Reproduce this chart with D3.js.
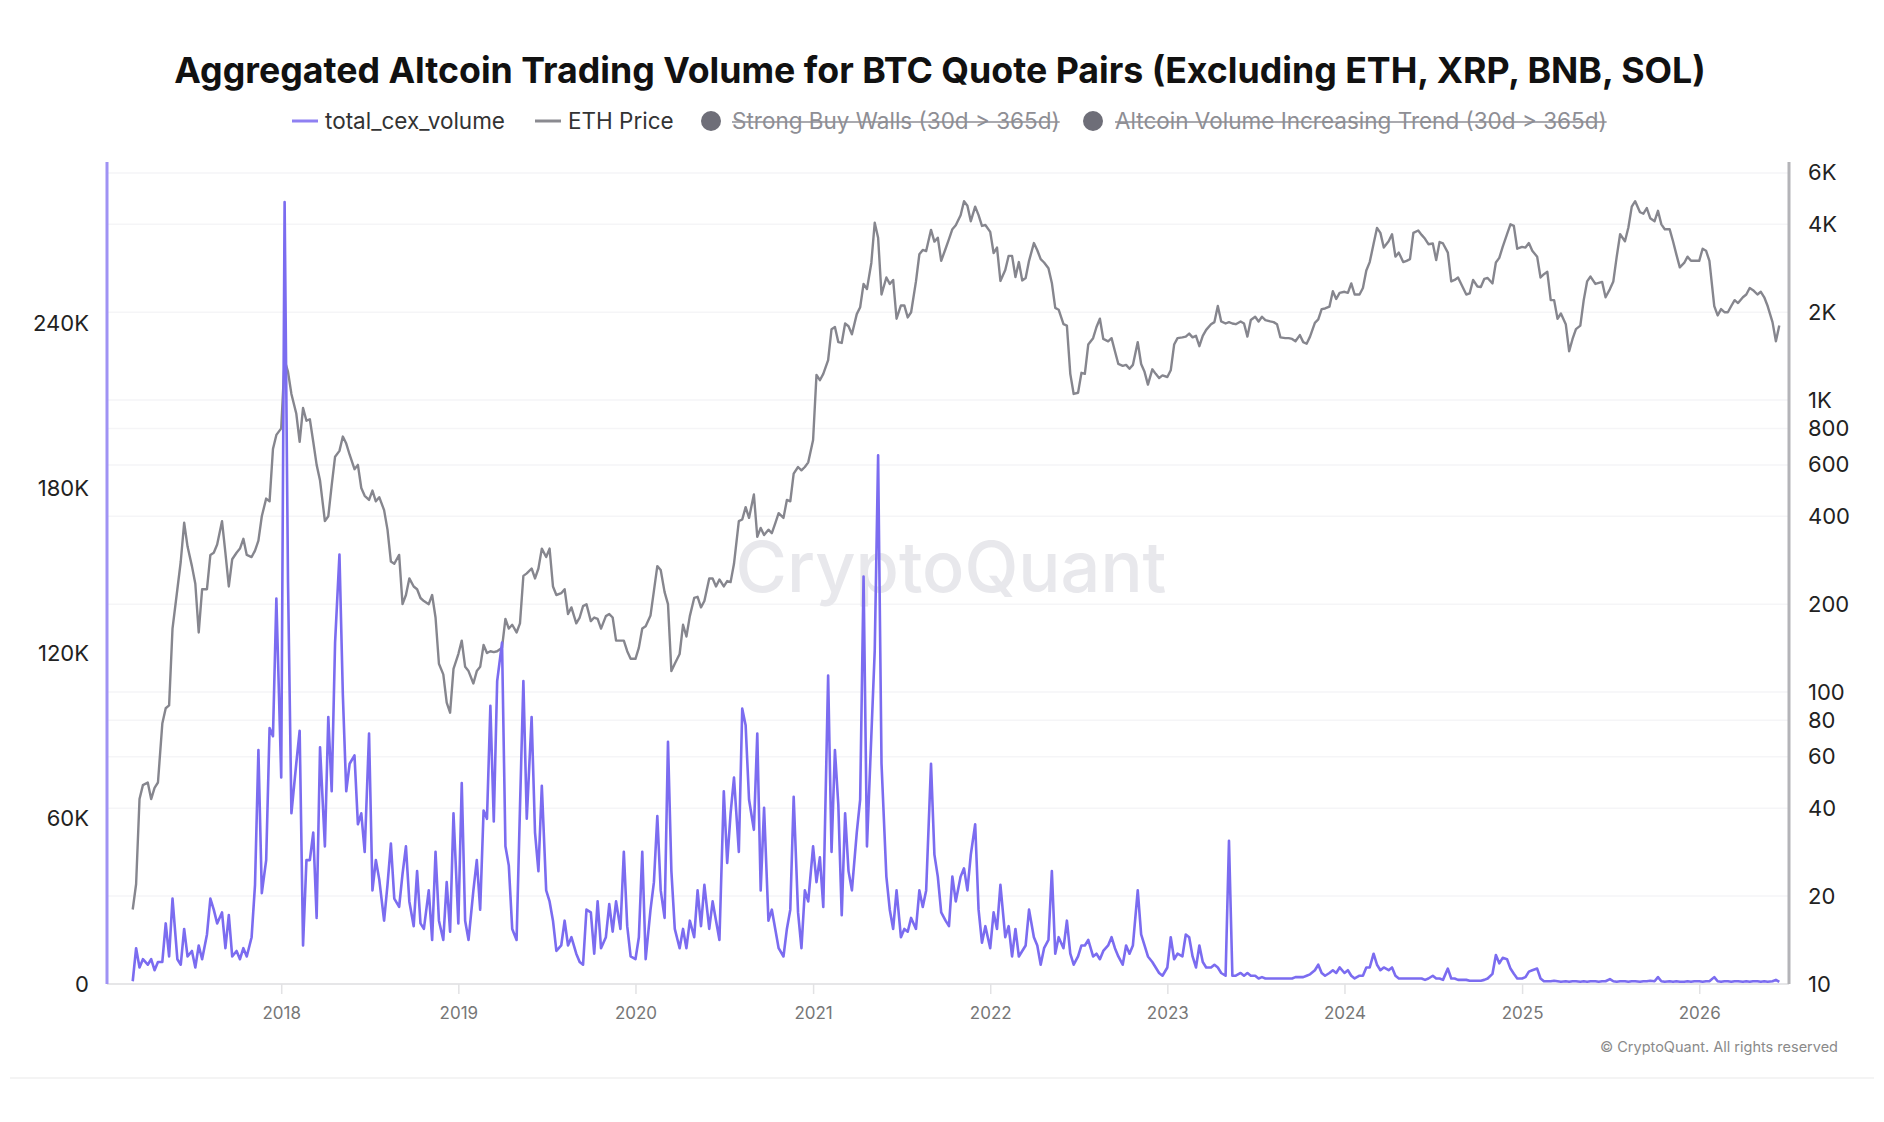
<!DOCTYPE html>
<html>
<head>
<meta charset="utf-8">
<title>Aggregated Altcoin Trading Volume for BTC Quote Pairs</title>
<script src="https://d3js.org/d3.v7.min.js"></script>
<style>
  body { margin: 0; background: #fff; }
  * { font-family: Inter, "Noto Sans", sans-serif; }
</style>
</head>
<body>
<svg id="chart" width="1884" height="1122"></svg>
<script>
// weekly samples (days 1, 8, 15, 22 of each month), first month = March 2017
const startYear = 2017, startMonth = 2;
const weekDays = [1, 8, 15, 22];

// total_cex_volume, in thousands (one row = one month)
const cexVolume = [
  1, 13, 6, 9,   7, 9, 5, 8,   8, 22, 10, 31,   9, 7, 20, 10,   12, 6, 14, 9,
  18, 31, 27, 22,   26, 13, 25, 10,   12, 9, 13, 10,   17, 36, 85, 33,   45, 93, 90, 140,
  // 2018
  75, 284, 146, 62,   80, 92, 14, 45,   45, 55, 24, 86,   50, 97, 70, 124,
  156, 105, 70, 80,   83, 58, 62, 48,   91, 34, 45, 38,   23, 36, 51, 31,
  28, 40, 50, 30,   21, 41, 22, 20,   34, 16, 48, 23,   16, 37, 19, 62,
  // 2019
  22, 73, 23, 16,   34, 45, 27, 63,   60, 101, 59, 110,   124, 50, 43, 20,
  16, 64, 110, 60,   97, 55, 41, 72,   34, 30, 23, 12,   14, 23, 14, 17,
  11, 8, 7, 27,   26, 11, 30, 13,   17, 29, 19, 30,   20, 48, 21, 10,
  // 2020
  9, 17, 48, 9,   27, 37, 61, 34,   24, 88, 41, 20,   13, 20, 13, 23,
  17, 34, 21, 36,   20, 30, 23, 16,   70, 44, 62, 75,   48, 100, 94, 67,
  56, 91, 34, 64,   23, 27, 20, 13,   10, 20, 27, 68,   26, 13, 34, 30,
  // 2021
  50, 37, 46, 28,   112, 48, 85, 65,   25, 62, 41, 34,   55, 67, 148, 50,
  90, 121, 192, 80,   39, 27, 20, 34,   17, 20, 19, 24,   20, 34, 28, 34,
  80, 47, 39, 26,   23, 21, 39, 30,   39, 42, 34, 47,   58, 27, 15, 21,
  // 2022
  13, 26, 20, 36,   17, 21, 10, 20,   10, 12, 14, 27,   17, 14, 7, 13,
  16, 41, 11, 17,   13, 23, 11, 7,   10, 14, 14, 16,   10, 11, 9, 12,
  14, 17, 13, 10,   7, 14, 11, 14,   34, 18, 14, 10,   8, 6, 4, 3,
  // 2023
  6, 17, 9, 11,   10, 18, 17, 10,   6, 14, 8, 6,   6, 7, 6, 4,
  3, 52, 3, 3,   4, 3, 4, 3,   3, 2, 2.5, 2,   2, 2, 2, 2,
  2, 2, 2, 2.5,   2.5, 2.5, 3, 3.5,   5, 7, 4, 3,   4, 5, 4, 6,
  // 2024
  4, 5, 3, 2,   3, 3, 6, 6,   11, 7, 5, 6,   5, 6, 3, 2,
  2, 2, 2, 2,   2, 2, 1.5, 2,   3, 2, 2, 1.5,   5.6, 2, 2, 1.5,
  1.5, 1.5, 1.2, 1.2,   1.2, 1.2, 1.5, 2,   3.7, 10.5, 7.5, 9.5,   9, 5.6, 3.7, 2,
  // 2025
  2, 2.5, 4.5, 5,   5.6, 2, 1, 1,   1, 1.2, 1, 0.8,   1, 0.8, 1, 1,
  0.8, 1, 0.8, 1,   1, 0.8, 1, 1,   1.8, 1, 0.8, 1,   1, 0.8, 1, 1,
  0.8, 1, 1, 1.2,   1, 2.5, 1, 0.8,   1, 0.8, 1, 0.8,   0.8, 1, 0.8, 1,
  // 2026
  1, 0.8, 1, 1,   2.5, 1, 0.8, 1,   1, 0.8, 1, 1,   0.8, 1, 0.8, 1,
  1, 0.8, 1, 0.8,   1, 1.5, 0.8
];

// ETH Price, USD
const ethPrice = [
  18, 22, 43, 48,   49, 43, 47, 49,   78, 88, 90, 165,   225, 280, 380, 315,   270, 235, 160, 225,
  225, 295, 300, 320,   385, 300, 230, 285,   300, 310, 335, 295,   290, 305, 330, 400,   460, 450, 680, 760,
  // 2018
  800, 1370, 1250, 1050,   900, 720, 940, 850,   860, 720, 600, 530,   385, 400, 510, 640,
  670, 750, 710, 650,   580, 600, 500, 470,   455, 490, 450, 465,   420, 360, 280, 275,
  295, 200, 215, 245,   230, 225, 210, 205,   200, 215, 180, 125,   115, 92, 85, 120,
  // 2019
  135, 150, 122, 118,   107, 118, 122, 145,   136, 138, 137, 138,   142, 178, 165, 170,
  160, 172, 250, 255,   265, 245, 265, 310,   290, 310, 230, 215,   218, 225, 185, 195,
  172, 180, 197, 200,   175, 180, 178, 165,   182, 185, 180, 150,   150, 150, 138, 130,
  // 2020
  130, 142, 165, 168,   183, 222, 270, 262,   220, 200, 118, 125,   135, 170, 155, 182,
  210, 212, 195, 205,   245, 245, 230, 243,   230, 240, 238, 275,   385, 390, 430, 395,
  475, 340, 365, 345,   360, 350, 378, 410,   395, 455, 450, 560,   590, 575, 590, 612,
  // 2021
  730, 1220, 1170, 1230,   1370, 1750, 1780, 1580,   1570, 1830, 1790, 1680,   1970, 2080, 2500, 2400,
  2950, 4050, 3600, 2300,   2630, 2500, 2580, 1900,   2110, 2110, 1920, 2000,   2550, 3160, 3270, 3240,
  3830, 3490, 3600, 3000,   3300, 3560, 3850, 3970,   4300, 4800, 4630, 4100,   4600, 4300, 3950, 3980,
  // 2022
  3770, 3190, 3330, 2560,   2790, 3120, 3120, 2640,   2970, 2570, 2620, 3000,   3450, 3260, 3040, 2960,
  2830, 2520, 2070, 2040,   1820, 1800, 1230, 1050,   1060, 1240, 1230, 1550,   1630, 1780, 1900, 1620,
  1590, 1630, 1470, 1330,   1310, 1320, 1280, 1320,   1580, 1330, 1250, 1130,   1275, 1230, 1190, 1215,
  // 2023
  1200, 1265, 1550, 1630,   1640, 1650, 1690, 1640,   1660, 1530, 1660, 1740,   1820, 1850, 2100, 1860,
  1830, 1850, 1830, 1820,   1860, 1830, 1650, 1880,   1930, 1860, 1930, 1880,   1860, 1850, 1820, 1640,
  1630, 1630, 1620, 1590,   1670, 1580, 1560, 1650,   1840, 1890, 2050, 2060,   2090, 2360, 2220, 2330,
  // 2024
  2350, 2330, 2510, 2300,   2300, 2420, 2780, 2970,   3430, 3890, 3740, 3330,   3500, 3700, 3100, 3200,
  2970, 3000, 3040, 3740,   3810, 3680, 3570, 3420,   3440, 3020, 3480, 3440,   3200, 2550, 2580, 2630,
  2430, 2300, 2320, 2580,   2450, 2440, 2600, 2620,   2510, 2960, 3070, 3350,   3700, 4000, 3950, 3300,
  // 2025
  3350, 3330, 3450, 3250,   3100, 2630, 2700, 2750,   2200, 2200, 1900, 1980,   1820, 1470, 1620, 1750,
  1800, 2200, 2550, 2650,   2500, 2520, 2540, 2250,   2400, 2550, 3100, 3700,   3500, 3900, 4600, 4800,
  4400, 4350, 4550, 4200,   4100, 4450, 4000, 3850,   3850, 3500, 3150, 2850,   2950, 3100, 3000, 3000,
  // 2026
  3000, 3300, 3250, 3000,   2100, 1950, 2050, 2000,   2000, 2100, 2200, 2150,   2250, 2300, 2420, 2380,
  2300, 2350, 2250, 2100,   1850, 1590, 1800
];

const leftTicks = [0, 60000, 120000, 180000, 240000];
const rightTicks = [10, 20, 40, 60, 80, 100, 200, 400, 600, 800, 1000, 2000, 4000, 6000];
const yearTicks = [2018, 2019, 2020, 2021, 2022, 2023, 2024, 2025, 2026];

const titleText = "Aggregated Altcoin Trading Volume for BTC Quote Pairs (Excluding ETH, XRP, BNB, SOL)";

let svg = d3.select("svg#chart");

const plot = { left: 107, right: 1789, top: 158, bottom: 984 };

const dates = ethPrice.map((d, i) =>
  new Date(Date.UTC(startYear, startMonth + Math.floor(i / 4), weekDays[i % 4])));

const xScale = d3.scaleUtc()
  .domain([new Date(Date.UTC(2017, 0, 7)), new Date(Date.UTC(2026, 6, 5))])
  .range([plot.left, plot.right]);
const yLeft = d3.scaleLinear().domain([0, 300000]).range([plot.bottom, plot.top]);
const yRight = d3.scaleLog().domain([10, 6750]).range([plot.bottom, plot.top]);

// title
let title = svg.append("text")
  .attr("x", 940).attr("y", 83)
  .attr("text-anchor", "middle")
  .style("font-size", "36px").style("font-weight", 700)
  .style("fill", "#111")
  .text(titleText);
let tw = title.node().getComputedTextLength();
title.style("font-size", (36 * 1532 / tw) + "px");

// legend
const legendY = 121;
let legend = svg.append("g").style("font-size", "22.5px");
legend.append("line").attr("x1", 292).attr("x2", 318).attr("y1", legendY).attr("y2", legendY)
  .attr("stroke", "#8f80f2").attr("stroke-width", 3);
legend.append("text").attr("x", 325).attr("y", legendY).attr("dy", "0.35em")
  .style("fill", "#333").text("total_cex_volume");
legend.append("line").attr("x1", 535).attr("x2", 561).attr("y1", legendY).attr("y2", legendY)
  .attr("stroke", "#8a8a90").attr("stroke-width", 3);
legend.append("text").attr("x", 568).attr("y", legendY).attr("dy", "0.35em")
  .style("fill", "#333").text("ETH Price");

[[711, 732, "Strong Buy Walls (30d > 365d)"],
 [1093, 1115, "Altcoin Volume Increasing Trend (30d > 365d)"]].forEach(([cx, tx, label]) => {
  legend.append("circle").attr("cx", cx).attr("cy", legendY).attr("r", 10).attr("fill", "#6e6e78");
  let t = legend.append("text").attr("x", tx).attr("y", legendY).attr("dy", "0.35em")
    .style("fill", "#8e8e94").text(label);
  let w = t.node().getComputedTextLength();
  legend.append("line").attr("x1", tx).attr("x2", tx + w)
    .attr("y1", legendY + 1).attr("y2", legendY + 1)
    .attr("stroke", "#8e8e94").attr("stroke-width", 1.5);
});

// gridlines from the right axis
svg.append("g").selectAll("line").data(rightTicks.slice(1)).join("line")
  .attr("x1", plot.left).attr("x2", plot.right)
  .attr("y1", d => yRight(d)).attr("y2", d => yRight(d))
  .attr("stroke", "#f5f5f7").attr("stroke-width", 1.5);

// watermark
let wm = svg.append("text")
  .attr("x", 951).attr("y", 567).attr("dy", "0.36em")
  .attr("text-anchor", "middle")
  .style("font-size", "70px").style("font-weight", 500)
  .style("fill", "#e8e8ec")
  .text("CryptoQuant");
let ww = wm.node().getComputedTextLength();
wm.style("font-size", (70 * 431 / ww) + "px");

// baseline
svg.append("line")
  .attr("x1", plot.left).attr("x2", plot.right)
  .attr("y1", plot.bottom).attr("y2", plot.bottom)
  .attr("stroke", "#e6e6e8").attr("stroke-width", 2);

// x axis
let bottomAxis = d3.axisBottom(xScale)
  .tickValues(yearTicks.map(y => new Date(Date.UTC(y, 0, 1))))
  .tickFormat(d3.utcFormat("%Y"))
  .tickSize(10).tickPadding(13);
let xg = svg.append("g").attr("transform", `translate(0, ${plot.bottom})`).call(bottomAxis);
xg.select(".domain").remove();
xg.selectAll(".tick line").attr("stroke", "#e2e2e4").attr("stroke-width", 1.5);
xg.selectAll(".tick text").style("font-size", "17px").style("fill", "#777").style("font-family", "Inter, sans-serif");

// left axis
let leftAxis = d3.axisLeft(yLeft).tickValues(leftTicks)
  .tickFormat(d => d === 0 ? "0" : (d / 1000) + "K")
  .tickSize(0).tickPadding(0);
let lg = svg.append("g").attr("transform", "translate(89, 0)").call(leftAxis);
lg.select(".domain").remove();
lg.selectAll(".tick text").style("font-size", "22px").style("fill", "#222").style("font-family", "Inter, sans-serif");
svg.append("line").attr("x1", plot.left).attr("x2", plot.left)
  .attr("y1", 162).attr("y2", plot.bottom)
  .attr("stroke", "#9f92f4").attr("stroke-width", 3);

// right axis
let rightAxis = d3.axisRight(yRight).tickValues(rightTicks)
  .tickFormat(d => d >= 1000 ? (d / 1000) + "K" : d)
  .tickSize(0).tickPadding(0);
let rg = svg.append("g").attr("transform", "translate(1808, 0)").call(rightAxis);
rg.select(".domain").remove();
rg.selectAll(".tick text").style("font-size", "22px").style("fill", "#222").style("font-family", "Inter, sans-serif");
svg.append("line").attr("x1", plot.right).attr("x2", plot.right)
  .attr("y1", 162).attr("y2", plot.bottom)
  .attr("stroke", "#b4b4b8").attr("stroke-width", 3);

// series
let priceLine = d3.line()
  .x((d, i) => xScale(dates[i]))
  .y(d => yRight(d));
svg.append("path").datum(ethPrice)
  .attr("d", priceLine)
  .attr("fill", "none").attr("stroke", "#86868e").attr("stroke-width", 2.4)
  .attr("stroke-linejoin", "round");

let volumeLine = d3.line()
  .x((d, i) => xScale(dates[i]))
  .y(d => yLeft(d * 1000));
svg.append("path").datum(cexVolume)
  .attr("d", volumeLine)
  .attr("fill", "none").attr("stroke", "#7b6cf0").attr("stroke-width", 2.6)
  .attr("stroke-linejoin", "round");

// footer
svg.append("text")
  .attr("x", 1838).attr("y", 1052)
  .attr("text-anchor", "end")
  .style("font-size", "14.5px").style("fill", "#8a8a8a")
  .text("\u00A9 CryptoQuant. All rights reserved");

svg.append("line").attr("x1", 10).attr("x2", 1874).attr("y1", 1078).attr("y2", 1078)
  .attr("stroke", "#f4f4f4").attr("stroke-width", 2);
</script>
</body>
</html>
